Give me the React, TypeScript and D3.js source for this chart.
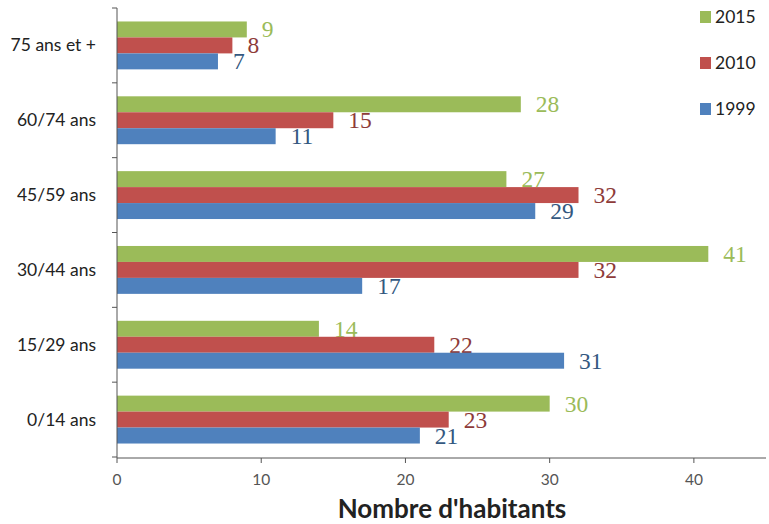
import React from "react";
import * as d3 from "d3";

const categories = ["0/14 ans", "15/29 ans", "30/44 ans", "45/59 ans", "60/74 ans", "75 ans et +"];
const series = ["2015", "2010", "1999"];
const values2015 = [30, 14, 41, 27, 28, 9];
const values2010 = [23, 22, 32, 32, 15, 8];
const values1999 = [21, 31, 17, 29, 11, 7];
const xTicks = [0, 10, 20, 30, 40];

const colors: Record<string, string> = { "2015": "#9BBB59", "2010": "#C0504D", "1999": "#4F81BD" };
const labelColors: Record<string, string> = { "2015": "#9BBB59", "2010": "#8E3B39", "1999": "#34587F" };

export default function App() {
  const W = 769, H = 524;
  const left = 117, right = 766, top = 8, bottom = 457;
  const x = d3.scaleLinear().domain([0, 45]).range([left, right]);
  const order = [...categories].reverse(); // top to bottom
  const y = d3.scaleBand().domain(order).range([top, bottom]).paddingInner(0.36).paddingOuter(0.18);
  const sub = d3.scaleBand().domain(series).range([0, y.bandwidth()]);
  const vals: Record<string, number[]> = { "2015": values2015, "2010": values2010, "1999": values1999 };
  const step = (bottom - top) / categories.length;
  const boundaries = d3.range(categories.length + 1).map((i) => top + i * step);
  const sans = "Lato, 'Open Sans', 'DejaVu Sans', sans-serif";

  return (
    <svg width={W} height={H} style={{ position: "absolute", left: 0, top: 0, background: "#fff" }}>
      <rect width={W} height={H} fill="#fff" />
      {categories.map((c, ci) =>
        series.map((s) => {
          const v = vals[s][ci];
          const yy = (y(c) as number) + (sub(s) as number);
          return (
            <g key={c + s}>
              <rect x={x(0)} y={yy} width={x(v) - x(0)} height={sub.bandwidth()} fill={colors[s]} />
              <text x={x(v) + 15} y={yy + sub.bandwidth()} fill={labelColors[s]}
                fontFamily="'Liberation Serif', 'DejaVu Serif', serif" fontSize={23.5}>{v}</text>
            </g>
          );
        })
      )}
      {/* y axis */}
      <line x1={left} x2={left} y1={top} y2={bottom + 1} stroke="#555" strokeWidth={1} />
      {boundaries.map((b, i) => (
        <line key={i} x1={left - 5} x2={left} y1={b} y2={b} stroke="#555" />
      ))}
      {categories.map((c) => (
        <text key={c} x={left - 21} y={(y(c) as number) + y.bandwidth() / 2 + 6} textAnchor="end"
          fontFamily={sans} fontSize={17.5} fill="#222">{c}</text>
      ))}
      {/* x axis */}
      <line x1={left} x2={right} y1={bottom + 1} y2={bottom + 1} stroke="#555" />
      {xTicks.map((t) => (
        <g key={t}>
          <line x1={x(t)} x2={x(t)} y1={bottom + 1} y2={bottom + 6} stroke="#555" />
          <text x={x(t)} y={bottom + 28} textAnchor="middle" fontFamily={sans}
            fontSize={15.5} fill="#555">{t}</text>
        </g>
      ))}
      <text x={452} y={518} textAnchor="middle" fontFamily={sans}
        fontSize={26} fontWeight="bold" fill="#222">Nombre d'habitants</text>
      {/* legend */}
      {series.map((s, i) => (
        <g key={s} transform={`translate(700, ${11 + i * 46})`}>
          <rect x={0} y={0} width={11} height={12} fill={colors[s]} />
          <text x={15} y={12} fontFamily={sans} fontSize={17.5} fill="#222">{s}</text>
        </g>
      ))}
    </svg>
  );
}
